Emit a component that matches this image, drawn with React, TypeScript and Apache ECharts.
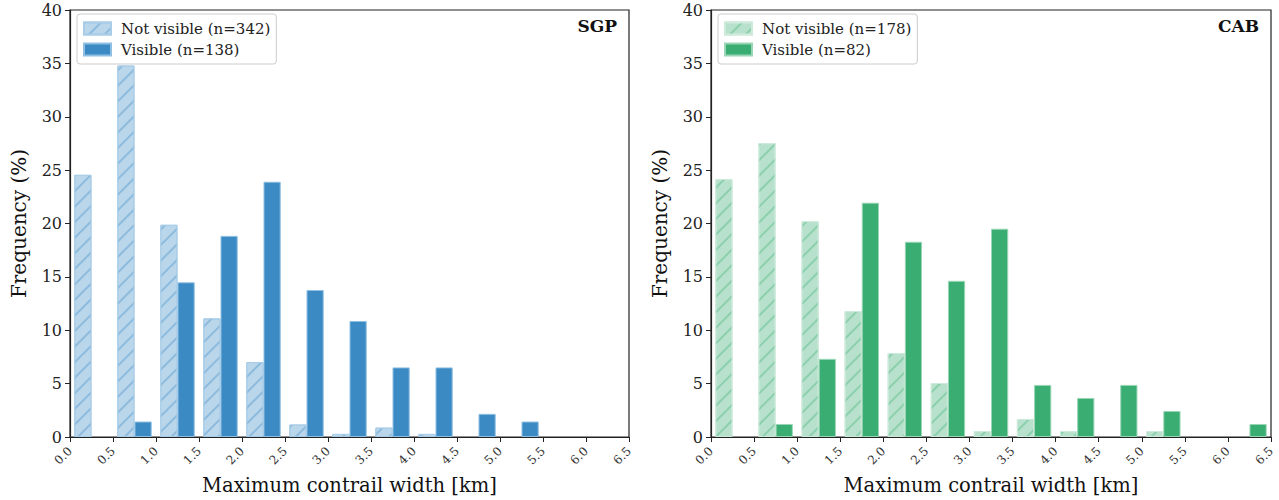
import React, { useEffect, useRef } from "react";
import * as echarts from "echarts";

// Width bins (km): 13 bins of 0.5 km from 0 to 6.5
const binLabels = ["0-0.5", "0.5-1", "1-1.5", "1.5-2", "2-2.5", "2.5-3", "3-3.5", "3.5-4", "4-4.5", "4.5-5", "5-5.5", "5.5-6", "6-6.5"];

// Frequencies (%) per bin
const sgpNotVisible = [24.56, 34.8, 19.88, 11.11, 7.02, 1.17, 0.29, 0.88, 0.29, 0, 0, 0, 0];
const sgpVisible = [0, 1.45, 14.49, 18.84, 23.91, 13.77, 10.87, 6.52, 6.52, 2.17, 1.45, 0, 0];
const cabNotVisible = [24.16, 27.53, 20.22, 11.8, 7.87, 5.06, 0.56, 1.69, 0.56, 0, 0.56, 0, 0];
const cabVisible = [0, 1.22, 7.32, 21.95, 18.29, 14.63, 19.51, 4.88, 3.66, 4.88, 2.44, 0, 1.22];

const sgpNames = ["Not visible (n=342)", "Visible (n=138)"];
const cabNames = ["Not visible (n=178)", "Visible (n=82)"];

const FONT = "DejaVu Serif";

// Diagonal "//" hatch for the not-visible bars
const hatch = (color: string) => ({
  symbol: "rect",
  symbolSize: 1,
  dashArrayX: [1, 0],
  dashArrayY: [1.4, 8.6],
  rotation: -Math.PI / 4,
  color,
});

// Empty bins draw nothing
const nonZero = (arr: number[]) => arr.map((v) => (v === 0 ? null : v));

export default function App() {
  const ref = useRef<HTMLDivElement>(null);

  useEffect(() => {
    if (!ref.current) return;
    const chart = echarts.init(ref.current, undefined, { renderer: "svg" });

    const grids = [
      { left: 70, top: 10, width: 559, height: 428 },
      { left: 711, top: 10, width: 560, height: 428 },
    ];

    const xAxes: any[] = [];
    const yAxes: any[] = [];
    grids.forEach((_, i) => {
      xAxes.push({
        type: "category",
        gridIndex: i,
        data: binLabels,
        show: false,
      });
      xAxes.push({
        type: "value",
        gridIndex: i,
        min: 0,
        max: 6.5,
        interval: 0.5,
        position: "bottom",
        name: "Maximum contrail width [km]",
        nameLocation: "middle",
        nameGap: 38,
        nameTextStyle: { fontFamily: FONT, fontSize: 19.5, color: "#111" },
        axisLine: { show: true, lineStyle: { color: "#222", width: 1.2 } },
        axisTick: { show: true, length: 5, inside: false, lineStyle: { color: "#222" } },
        axisLabel: {
          rotate: 45,
          fontFamily: FONT,
          fontSize: 12,
          color: "#333",
          margin: 12,
          showMinLabel: true,
          showMaxLabel: true,
          formatter: (v: number) => v.toFixed(1),
        },
        splitLine: { show: false },
      });
      yAxes.push({
        type: "value",
        gridIndex: i,
        min: 0,
        max: 40,
        interval: 5,
        name: "Frequency (%)",
        nameLocation: "middle",
        nameGap: 41,
        nameTextStyle: { fontFamily: FONT, fontSize: 20, color: "#111" },
        axisLine: { show: true, lineStyle: { color: "#222", width: 1.2 } },
        axisTick: { show: true, length: 5, lineStyle: { color: "#222" } },
        axisLabel: { fontFamily: FONT, fontSize: 16, color: "#222", margin: 8 },
        splitLine: { show: false },
      });
    });

    const makeSeries = (
      names: string[],
      nv: number[],
      vis: number[],
      gi: number,
      nvFill: string,
      nvHatch: string,
      nvEdge: string,
      visFill: string,
      visEdge: string
    ) => [
      {
        type: "bar",
        name: names[0],
        xAxisIndex: gi * 2,
        yAxisIndex: gi,
        data: nonZero(nv),
        barWidth: "40%",
        barGap: "0%",
        itemStyle: { color: nvFill, borderColor: nvEdge, borderWidth: 1, decal: hatch(nvHatch) },
      },
      {
        type: "bar",
        name: names[1],
        xAxisIndex: gi * 2,
        yAxisIndex: gi,
        data: nonZero(vis),
        barWidth: "40%",
        barGap: "0%",
        itemStyle: { color: visFill, borderColor: visEdge, borderWidth: 1 },
      },
    ];

    const legendBase = {
      orient: "vertical",
      top: 14,
      padding: [7, 6, 7, 6],
      itemGap: 6,
      itemWidth: 27,
      itemHeight: 12,
      icon: "rect",
      backgroundColor: "rgba(255,255,255,0.85)",
      borderColor: "#cccccc",
      borderWidth: 1,
      borderRadius: 3,
      textStyle: { fontFamily: FONT, fontSize: 15, color: "#222", padding: [0, 0, 0, 5] },
      selectedMode: false,
    };

    const titleStyle = { fontFamily: FONT, fontSize: 17, fontWeight: "bold", color: "#111" };

    chart.setOption({
      animation: false,
      backgroundColor: "#ffffff",
      grid: grids.map((g) => ({
        ...g,
        show: true,
        borderColor: "#222",
        borderWidth: 1.2,
        backgroundColor: "transparent",
      })),
      title: [
        { text: "SGP", right: 1279 - 622, top: 12, textStyle: titleStyle },
        { text: "CAB", right: 1279 - 1264, top: 12, textStyle: titleStyle },
      ],
      legend: [
        { ...legendBase, left: 77, data: sgpNames },
        { ...legendBase, left: 718, data: cabNames },
      ],
      xAxis: xAxes,
      yAxis: yAxes,
      series: [
        ...makeSeries(sgpNames, sgpNotVisible, sgpVisible, 0, "#b9d6ea", "#8dbbdd", "#a9cde8", "#3b8ac4", "#8fbfe2"),
        ...makeSeries(cabNames, cabNotVisible, cabVisible, 1, "#b7e1cc", "#8ccfac", "#cdeadb", "#3aad72", "#9ad6b6"),
      ],
    });

    return () => chart.dispose();
  }, []);

  return (
    <div
      ref={ref}
      style={{ position: "fixed", left: 0, top: 0, width: 1279, height: 500 }}
    />
  );
}
